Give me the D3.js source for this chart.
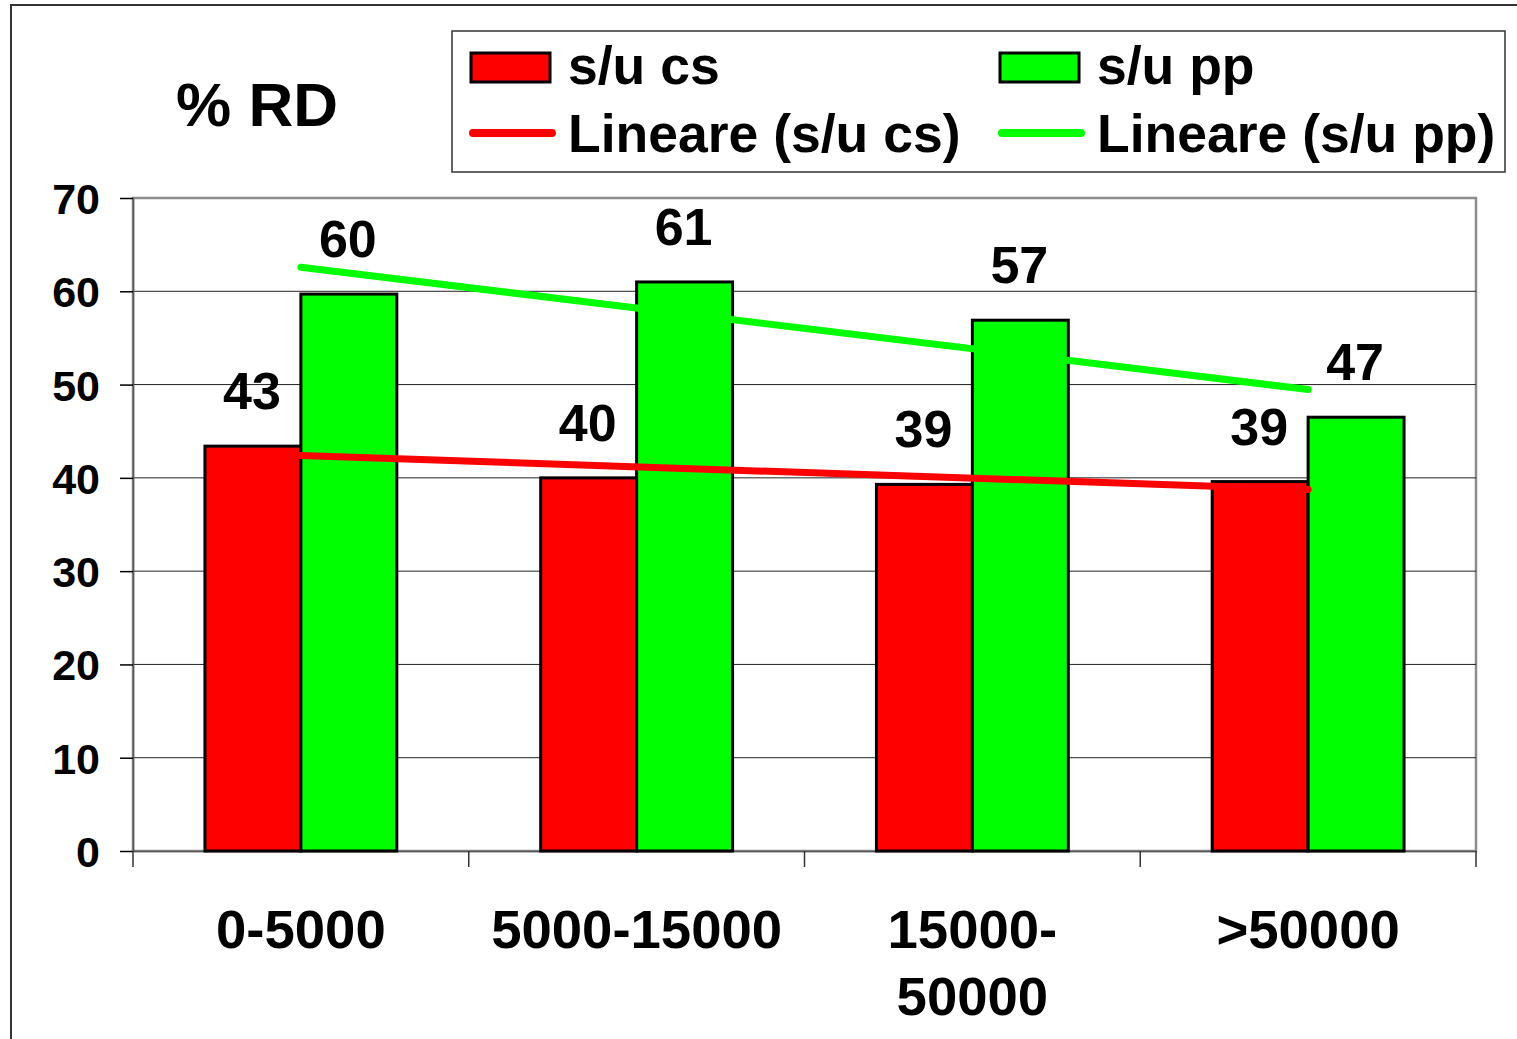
<!DOCTYPE html>
<html>
<head>
<meta charset="utf-8">
<script src="https://cdn.jsdelivr.net/npm/d3@7"></script>
<style>
html,body{margin:0;padding:0;background:#fff;}
svg{display:block;font-family:"Liberation Sans",Arial,sans-serif;font-weight:bold;}
</style>
</head>
<body>
<svg id="chart" width="1517" height="1039"></svg>
<script>
const categories = [["0-5000"], ["5000-15000"], ["15000-", "50000"], [">50000"]];
const categoryKeys = ["0-5000", "5000-15000", "15000-50000", ">50000"];
const seriesNames = ["s/u cs", "s/u pp"];
const csValues = [43.4, 40.0, 39.3, 39.6];
const ppValues = [59.7, 61.0, 56.9, 46.5];
const csLabels = ["43", "40", "39", "39"];
const ppLabels = ["60", "61", "57", "47"];
const yTicks = [0, 10, 20, 30, 40, 50, 60, 70];
const trendNames = ["Lineare (s/u cs)", "Lineare (s/u pp)"];
const colors = ["#ff0000", "#00ff00"];

const svg = d3.select("#chart");

// outer slide frame
svg.append("rect").attr("x", 11).attr("y", 5).attr("width", 1520).attr("height", 1050)
  .attr("fill", "none").attr("stroke", "#333").attr("stroke-width", 2);

const L = 133, R = 1476, T = 198, B = 851;
const x = d3.scaleBand().domain(categoryKeys).range([L, R]).paddingInner(0).paddingOuter(0);
const y = d3.scaleLinear().domain([0, 70]).range([B, T]);
const barW = x.bandwidth() / 3.5;
const xs = d3.scaleBand().domain(seriesNames).range([-barW, barW]);

// plot area border
svg.append("rect").attr("x", L).attr("y", T).attr("width", R - L).attr("height", B - T)
  .attr("fill", "none").attr("stroke", "#8c8c8c").attr("stroke-width", 2.5);

// gridlines
svg.append("g").selectAll("line").data(yTicks.filter(d => d > 0 && d < 70)).join("line")
  .attr("x1", L).attr("x2", R).attr("y1", d => y(d)).attr("y2", d => y(d))
  .attr("stroke", "#222").attr("stroke-width", 1);

// y axis
const yAxis = svg.append("g").attr("transform", `translate(${L},0)`)
  .call(d3.axisLeft(y).tickValues(yTicks).tickSize(13).tickPadding(20).tickSizeOuter(0));
yAxis.select(".domain").attr("stroke", "#555").attr("stroke-width", 1.5);
yAxis.selectAll(".tick line").attr("stroke", "#000").attr("stroke-width", 1.5);
yAxis.selectAll("text").attr("font-size", 43).attr("font-weight", "bold").attr("fill", "#000")
  .attr("font-family", "Liberation Sans, Arial, sans-serif").attr("dy", "0.36em");

// x axis
const xAxis = svg.append("g").attr("transform", `translate(0,${B})`)
  .call(d3.axisBottom(x).tickValues([]).tickSizeOuter(0));
xAxis.select(".domain").attr("stroke", "#555").attr("stroke-width", 1.5);
const bounds = categoryKeys.map(k => x(k)).concat([R]);
svg.append("g").selectAll("line").data(bounds).join("line")
  .attr("x1", d => d).attr("x2", d => d).attr("y1", B).attr("y2", B + 16)
  .attr("stroke", "#333").attr("stroke-width", 1.5);

// category labels
const catG = svg.append("g");
categories.forEach((lines, i) => {
  const cx = x(categoryKeys[i]) + x.bandwidth() / 2;
  const t = catG.append("text").attr("x", cx).attr("y", 948)
    .attr("text-anchor", "middle").attr("font-size", 54.5).attr("fill", "#000");
  lines.forEach((ln, j) => {
    t.append("tspan").attr("x", cx).attr("dy", j === 0 ? 0 : 67).text(ln);
  });
});

// bars
const data = categoryKeys.map((k, i) => ({k, vals: [csValues[i], ppValues[i]], labs: [csLabels[i], ppLabels[i]]}));
const barG = svg.append("g");
data.forEach(d => {
  const cx = x(d.k) + x.bandwidth() / 2;
  seriesNames.forEach((s, j) => {
    barG.append("rect")
      .attr("x", cx + xs(s)).attr("y", y(d.vals[j]))
      .attr("width", xs.bandwidth()).attr("height", y(0) - y(d.vals[j]))
      .attr("fill", colors[j]).attr("stroke", "#000").attr("stroke-width", 3);
    barG.append("text")
      .attr("x", cx + xs(s) + xs.bandwidth() / 2 - 1).attr("y", y(d.vals[j]) - 37)
      .attr("text-anchor", "middle").attr("font-size", 52).attr("fill", "#000")
      .text(d.labs[j]);
  });
});

// linear trend lines (least squares over category index)
function fit(vals) {
  const n = vals.length, xsArr = vals.map((_, i) => i + 1);
  const mx = d3.mean(xsArr), my = d3.mean(vals);
  const b = d3.sum(xsArr.map((xx, i) => (xx - mx) * (vals[i] - my))) / d3.sum(xsArr.map(xx => (xx - mx) ** 2));
  const a = my - b * mx;
  return [a + b * 1, a + b * n];
}
[csValues, ppValues].forEach((vals, j) => {
  const [v0, v1] = fit(vals);
  const x0 = x(categoryKeys[0]) + x.bandwidth() / 2;
  const x1 = x(categoryKeys[categoryKeys.length - 1]) + x.bandwidth() / 2;
  svg.append("line").attr("x1", x0).attr("y1", y(v0)).attr("x2", x1).attr("y2", y(v1))
    .attr("stroke", colors[j]).attr("stroke-width", 7).attr("stroke-linecap", "round");
});

// y title
svg.append("text").attr("x", 257).attr("y", 126).attr("text-anchor", "middle")
  .attr("font-size", 62).attr("fill", "#000").text("% RD");

// legend
const lg = svg.append("g");
lg.append("rect").attr("x", 452).attr("y", 31).attr("width", 1053).attr("height", 141)
  .attr("fill", "#fff").attr("stroke", "#333").attr("stroke-width", 1.5);
const colX = [471, 1000];
seriesNames.forEach((s, j) => {
  lg.append("rect").attr("x", colX[j]).attr("y", 53).attr("width", 79).attr("height", 29)
    .attr("fill", colors[j]).attr("stroke", "#000").attr("stroke-width", 3);
  lg.append("text").attr("x", colX[j] + 97).attr("y", 84).attr("font-size", 53.5)
    .attr("fill", "#000").text(s);
  lg.append("line").attr("x1", colX[j] + 2).attr("x2", colX[j] + 81).attr("y1", 133).attr("y2", 133)
    .attr("stroke", colors[j]).attr("stroke-width", 8).attr("stroke-linecap", "round");
  lg.append("text").attr("x", colX[j] + 97).attr("y", 152).attr("font-size", 53.5)
    .attr("fill", "#000").text(trendNames[j]);
});
</script>
</body>
</html>
